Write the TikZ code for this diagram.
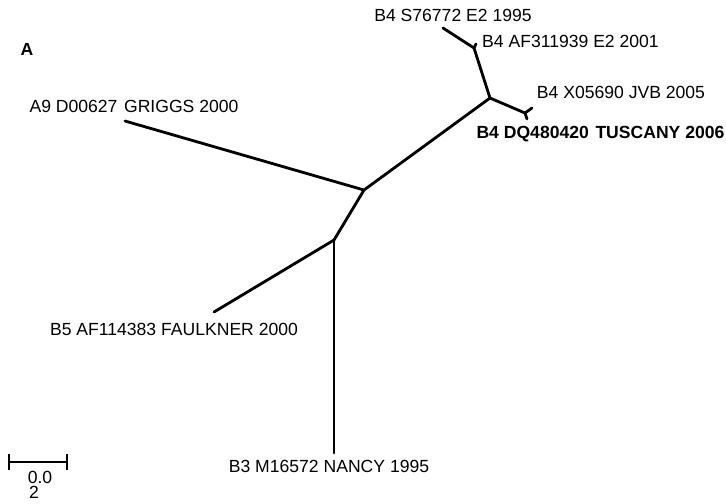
\documentclass[tikz,border=0pt]{standalone}
\usepackage{fontspec}
\setmainfont{Liberation Sans}
\usetikzlibrary{positioning}
\begin{document}
\begin{tikzpicture}
[every node/.style={inner sep=0mm,outer sep=0mm,font=\fontsize{10}{12}\selectfont},
 jn/.style={minimum size=0mm},
 tip/.style={minimum size=0mm},
 hl/.style={font=\fontsize{10}{12}\selectfont\bfseries},
 br/.style={line width=1.6pt,line cap=round},
 sc/.style={line width=1.2pt}]
\useasboundingbox (0,0) rectangle (14.52,-10.06);
\node[jn]  (n1)  at (7.28,-3.8)                              {};
\node[jn]  (n2)  [on grid,below  left=10mm and 6mm of n1]     {};
\node[jn]  (n3)  [on grid,above right=18.4mm and 25.2mm of n1] {};
\node[jn]  (n4)  [on grid,above  left=10mm and 3.2mm of n3]   {};
\node[jn]  (n5)  [on grid,below right=3mm and 7mm of n3]      {};
\node[tip] (tGR) [on grid,above  left=13.8mm and 47.8mm of n1] {};
\node[tip] (tS7) [on grid,above  left=4mm and 6.2mm of n4]    {};
\node[tip] (tAF) [on grid,above right=0.8mm and 0.4mm of n4]  {};
\node[tip] (tX0) [on grid,above right=1mm and 1.4mm of n5]    {};
\node[tip] (tTU) [on grid,below right=1.2mm and 0.4mm of n5]  {};
\node[tip] (tFA) [on grid,below  left=14.4mm and 24mm of n2]  {};
\node[tip] (tNA) [on grid,below=42.6mm of n2]                 {};
\path[br] (n1) edge (n2);
\path[br] (n1) edge (n3);
\path[br] (n1) edge (tGR);
\path[br] (n3) edge (n4);
\path[br] (n3) edge (n5);
\path[br] (n4) edge (tS7);
\path[br] (n4) edge (tAF);
\path[br] (n5) edge (tX0);
\path[br] (n5) edge (tTU);
\path[br] (n2) edge (tFA);
\path[br] (n2) edge (tNA);

\node (lGR) [on grid,above right=3mm and 1.8mm of tGR]    {A9 D00627 \kern1pt GRIGGS 2000};
\node (lS7) [on grid,above right=2.6mm and 2mm of tS7]    {B4 S76772 E2 1995};
\node (lAF) [on grid,above right=0.6mm and 18.9mm of tAF] {B4 AF311939 E2 2001};
\node (lX0) [on grid,above right=3.2mm and 17.8mm of tX0] {B4 X05690 JVB 2005};
\node[hl] (lTU) [on grid,below right=3mm and 14.7mm of tTU] {B4 DQ480420 \kern1pt TUSCANY 2006};
\node (lFA) [on grid,below  left=3.4mm and 8mm of tFA]    {B5 AF114383 FAULKNER 2000};
\node (lNA) [on grid,below  left=2.6mm and 1mm of tNA]    {B3 M16572 NANCY 1995};

\node[hl] (pA) at (0.54,-0.98) {A};

% scale bar
\node[jn] (sb0) at (0.16,-9.24) {};
\node[jn] (sb1) [on grid,right=12mm of sb0] {};
\path[sc,|-|] (sb0) edge (sb1);
\node (sbT1) [on grid,below right=3mm and 6.4mm of sb0] {0.0};
\node (sbT2) [on grid,below left=3mm and 1.2mm of sbT1] {2};
\end{tikzpicture}
\end{document}
